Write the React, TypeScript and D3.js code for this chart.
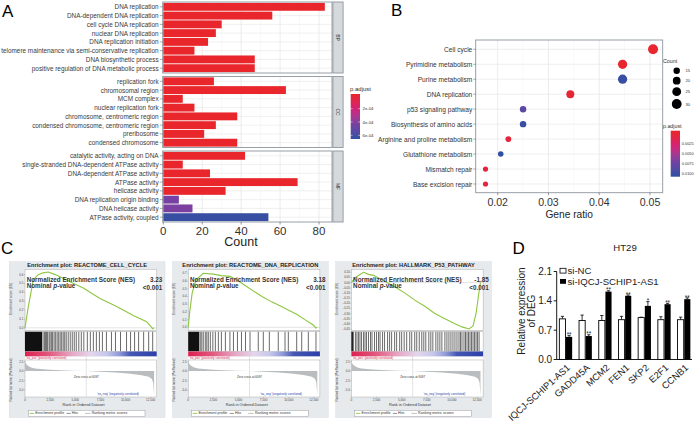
import React from 'react';
import * as d3 from 'd3';

const FONT = '"Liberation Sans", Arial, Helvetica, sans-serif';

// ---------------- Panel A data ----------------
const bpTerms = [
  'DNA replication',
  'DNA-dependent DNA replication',
  'cell cycle DNA replication',
  'nuclear DNA replication',
  'DNA replication initiation',
  'telomere maintenance via semi-conservative replication',
  'DNA biosynthetic process',
  'positive regulation of DNA metabolic process',
];
const bpCounts = [83, 56, 30, 27, 23, 16, 47, 47];
const bpPadj = [1e-6, 1e-6, 1e-6, 1e-6, 1e-6, 1e-6, 1e-6, 1e-6];

const ccTerms = [
  'replication fork',
  'chromosomal region',
  'MCM complex',
  'nuclear replication fork',
  'chromosome, centromeric region',
  'condensed chromosome, centromeric region',
  'preribosome',
  'condensed chromosome',
];
const ccCounts = [26, 63, 10, 16, 38, 27, 21, 38];
const ccPadj = [1e-6, 1e-6, 1e-6, 1e-6, 1e-6, 1e-6, 1e-6, 1e-6];

const mfTerms = [
  'catalytic activity, acting on DNA',
  'single-stranded DNA-dependent ATPase activity',
  'DNA-dependent ATPase activity',
  'ATPase activity',
  'helicase activity',
  'DNA replication origin binding',
  'DNA helicase activity',
  'ATPase activity, coupled',
];
const mfCounts = [42, 10, 24, 69, 32, 8, 15, 54];
const mfPadj = [1e-6, 1e-6, 1e-6, 1e-6, 1e-6, 4.3e-4, 4.2e-4, 6.4e-4];

const aStrips = ['BP', 'CC', 'MF'];
const aTicks = [0, 20, 40, 60, 80];
const aLegendTicks = [2e-4, 4e-4, 6e-4];
const aLegendLabels = ['2e-04', '4e-04', '6e-04'];

// ---------------- Panel B data ----------------
const keggTerms = [
  'Cell cycle',
  'Pyrimidine metabolism',
  'Purine metabolism',
  'DNA replication',
  'p53 signaling pathway',
  'Biosynthesis of amino acids',
  'Arginine and proline metabolism',
  'Glutathione metabolism',
  'Mismatch repair',
  'Base excision repair',
];
const keggRatio = [0.0506, 0.0446, 0.0446, 0.0343, 0.025, 0.025, 0.0221, 0.0206, 0.0176, 0.0176];
const keggCount = [31, 27, 27, 21, 15, 15, 13, 12, 11, 11];
const keggPadj = [0.0001, 0.0002, 0.0102, 0.0003, 0.0085, 0.0101, 0.0006, 0.0104, 0.0008, 0.001];
const bTicks = [0.02, 0.03, 0.04, 0.05];
const bCountLegend = [15, 20, 25, 30];
const bPadjLegend = [0.0025, 0.005, 0.0075, 0.01];
const bPadjLegendLabels = ['0.0025', '0.0050', '0.0075', '0.0100'];

// ---------------- Panel C data ----------------
const gseaTitles = [
  'Enrichment plot: REACTOME_CELL_CYCLE',
  'Enrichment plot: REACTOME_DNA_REPLICATION',
  'Enrichment plot: HALLMARK_P53_PATHWAY',
];
const gseaNES = ['3.23', '3.18', '-1.85'];
const gseaPval = ['<0.001', '<0.001', '<0.001'];

const es1Rank = [0, 70, 330, 825, 1300, 1800, 2320, 3000, 4150, 5000, 5800, 7460, 9120, 10770, 12100, 12500, 12700, 12840];
const es1Value = [0.0, 0.05, 0.24, 0.54, 0.6, 0.62, 0.63, 0.6, 0.54, 0.49, 0.45, 0.33, 0.24, 0.14, 0.07, 0.02, -0.01, 0.0];
const es2Rank = [0, 150, 400, 800, 1500, 2500, 3300, 4160, 5000, 5820, 6600, 7470, 8300, 9130, 10000, 10790, 11600, 12440, 12700, 12840];
const es2Value = [0.0, 0.2, 0.45, 0.62, 0.7, 0.69, 0.67, 0.66, 0.6, 0.53, 0.46, 0.39, 0.33, 0.28, 0.22, 0.17, 0.1, 0.03, -0.01, 0.0];
const es3Rank = [0, 400, 1200, 1700, 2200, 3000, 4300, 5300, 6300, 7300, 8300, 9300, 10300, 11000, 11700, 12100, 12400, 12650, 12840];
const es3Value = [0.0, 0.05, 0.1, 0.08, 0.07, 0.03, -0.04, -0.1, -0.17, -0.23, -0.3, -0.35, -0.4, -0.43, -0.45, -0.42, -0.3, -0.12, 0.0];

const hits1Block = [0, 1700];
const hits1Lines = [1800, 1950, 2050, 2150, 2250, 2400, 2500, 2650, 2750, 2900, 3050, 3200, 3350, 3500, 3650, 3800, 3950, 4100, 4300, 4500, 4700, 4900, 5100, 5350, 5600, 5850, 6200, 6500, 6800, 7100, 7400, 7700, 8100, 8600, 9000, 9500, 10100, 10500, 10900, 11300, 11800, 12300, 12700];
const hits2Block = [0, 1100];
const hits2Lines = [1200, 1350, 1500, 1700, 1850, 2000, 2200, 2450, 2700, 3000, 3300, 3700, 4150, 4500, 4900, 5300, 5700, 6150, 6970, 7470, 8070, 8960, 9630, 9960, 10790, 11290, 11950, 12710];
const hits3Block = [0, 150];
const hits3Lines = [200, 400, 550, 700, 850, 1000, 1200, 1350, 1500, 1700, 1900, 2050, 2300, 2500, 2700, 2850, 3100, 3300, 3600, 3800, 4000, 4300, 4500, 4800, 5000, 5250, 5500, 5800, 6000, 6300, 6500, 6750, 7000, 7200, 7400, 7700, 7900, 8100, 8400, 8600, 8800, 9000, 9300, 9500, 9700, 9900, 10100, 10300, 10500, 10700, 10850, 11000, 11200, 11350, 11500, 11650, 11800, 11950, 12100, 12250, 12400, 12550, 12700];

const metricRank = [0, 60, 150, 330, 600, 1000, 1820, 2500, 3500, 4800, 6097, 7500, 9000, 10500, 11600, 12300, 12600, 12750, 12840];
const metricValue = [2.8, 2.2, 1.7, 1.3, 0.95, 0.7, 0.45, 0.32, 0.2, 0.08, 0, -0.15, -0.35, -0.7, -1.1, -1.5, -2.0, -3.0, -6.5];
const zeroCross = 6097;
const rankTicks = [0, 2500, 5000, 7500, 10000, 12500];
const esTicks1 = [0, 0.1, 0.2, 0.3, 0.4, 0.5, 0.6];
const esTicks2 = [0, 0.1, 0.2, 0.3, 0.4, 0.5, 0.6, 0.7];
const esTicks3 = [0.1, 0.05, 0, -0.05, -0.1, -0.15, -0.2, -0.25, -0.3, -0.35, -0.4, -0.45];
const metricTicks = [2.5, 0, -2.5, -5];

// ---------------- Panel D data ----------------
const dGenes = ['IQCJ-SCHIP1-AS1', 'GADD45A', 'MCM2', 'FEN1', 'SKP2', 'E2F1', 'CCNB1'];
const dSeries = ['si-NC', 'si-IQCJ-SCHIP1-AS1'];
const dNC = [0.97, 0.93, 0.93, 0.95, 1.0, 0.95, 0.95];
const dNCErr = [0.06, 0.13, 0.12, 0.08, 0.01, 0.07, 0.06];
const dSi = [0.54, 0.56, 1.62, 1.52, 1.28, 1.32, 1.44];
const dSiErr = [0.03, 0.03, 0.02, 0.02, 0.1, 0.02, 0.03];
const dSig = ['**', '**', '**', '**', '*', '**', '**'];
const dTicks = [0, 0.7, 1.4, 2.1];

// ---------------- helpers ----------------
const colorStops = ['#E8262B', '#D2237E', '#7341A3', '#2E4FA2'];
function padjScale(max: number) {
  return d3
    .scaleLinear<string>()
    .domain([0, max * 0.33, max * 0.66, max])
    .range(colorStops)
    .interpolate(d3.interpolateLab)
    .clamp(true);
}

function VGradient({ id, scale, lo, hi }: any) {
  const ts = d3.range(0, 1.0001, 0.1);
  return (
    <linearGradient id={id} x1="0" y1="0" x2="0" y2="1">
      {ts.map((t) => (
        <stop key={t} offset={t} stopColor={scale(lo + (hi - lo) * t)} />
      ))}
    </linearGradient>
  );
}

const GRID = '#E6E6E6';
const GRID_MINOR = '#F2F2F2';
const BORDER = '#8C959D';

function PanelA() {
  const x = d3.scaleLinear().domain([0, 80]).range([163.3, 319]);
  const L = 162.7;
  const R = 332;
  const H = 71;
  const tops = [2, 76.5, 151];
  const groups = [
    { terms: bpTerms, counts: bpCounts, padj: bpPadj },
    { terms: ccTerms, counts: ccCounts, padj: ccPadj },
    { terms: mfTerms, counts: mfCounts, padj: mfPadj },
  ];
  const color = padjScale(6.6e-4);
  const minor = [10, 30, 50, 70];
  const legY = d3.scaleLinear().domain([-0.2e-4, 6.55e-4]).range([94, 139]);
  return (
    <g>
      <defs>
        <VGradient id="gradA" scale={color} lo={legY.invert(94)} hi={legY.invert(139)} />
      </defs>
      <text x={2} y={17} fontSize={17}>A</text>
      {groups.map((g, gi) => {
        const top = tops[gi];
        const y = d3.scaleBand().domain(g.terms).range([top, top + H]).paddingInner(0.1).paddingOuter(0.1);
        return (
          <g key={gi}>
            <rect x={L} y={top} width={R - L} height={H} fill="#fff" />
            {minor.map((m) => (
              <line key={'m' + m} x1={x(m)} x2={x(m)} y1={top} y2={top + H} stroke={GRID_MINOR} strokeWidth={0.5} />
            ))}
            {aTicks.map((t) => (
              <line key={'t' + t} x1={x(t)} x2={x(t)} y1={top} y2={top + H} stroke={GRID} strokeWidth={0.8} />
            ))}
            {g.terms.map((t) => (
              <line key={'h' + t} x1={L} x2={R} y1={(y(t) as number) + y.bandwidth() / 2} y2={(y(t) as number) + y.bandwidth() / 2} stroke={GRID} strokeWidth={0.6} />
            ))}
            {g.terms.map((t, i) => (
              <rect key={'b' + t} x={x(0)} y={y(t)} width={x(g.counts[i]) - x(0)} height={y.bandwidth()} fill={color(g.padj[i])} />
            ))}
            <rect x={L} y={top} width={R - L} height={H} fill="none" stroke={BORDER} strokeWidth={0.9} />
            <rect x={R + 0.9} y={top} width={10.2} height={H} fill="#D5D9DC" stroke={BORDER} strokeWidth={0.9} />
            <text
              transform={`translate(${R + 6},${top + H / 2}) rotate(90)`}
              textAnchor="middle"
              dominantBaseline="central"
              fontSize={5}
              fill="#333"
            >
              {aStrips[gi]}
            </text>
            {g.terms.map((t) => {
              const cy = (y(t) as number) + y.bandwidth() / 2;
              return (
                <g key={'l' + t}>
                  <line x1={159.8} x2={L} y1={cy} y2={cy} stroke="#555" strokeWidth={0.5} />
                  <text x={158.6} y={cy} textAnchor="end" dominantBaseline="central" fontSize={6.4} fill="#3a3a3a">
                    {t}
                  </text>
                </g>
              );
            })}
          </g>
        );
      })}
      {aTicks.map((t) => (
        <g key={'xt' + t}>
          <line x1={x(t)} x2={x(t)} y1={222} y2={224.5} stroke="#555" strokeWidth={0.6} />
          <text x={x(t)} y={234.5} textAnchor="middle" fontSize={11.5} fill="#333">
            {t}
          </text>
        </g>
      ))}
      <text x={241} y={246} textAnchor="middle" fontSize={12.5} fill="#222">
        Count
      </text>
      <text x={350} y={90.5} fontSize={6} fill="#333">p.adjust</text>
      <rect x={350.7} y={94} width={9.3} height={45} fill="url(#gradA)" />
      {aLegendTicks.map((t, i) => (
        <g key={'al' + i}>
          <line x1={350.7} x2={352.5} y1={legY(t)} y2={legY(t)} stroke="#fff" strokeWidth={0.5} />
          <line x1={358.2} x2={360} y1={legY(t)} y2={legY(t)} stroke="#fff" strokeWidth={0.5} />
          <text x={362.5} y={legY(t)} dominantBaseline="central" fontSize={4.3} fill="#333">
            {aLegendLabels[i]}
          </text>
        </g>
      ))}
    </g>
  );
}

function PanelB() {
  const L = 475.7;
  const R = 662.7;
  const T = 40;
  const B = 192.7;
  const x = d3.scaleLinear().domain([0.02, 0.05]).range([497.7, 650]);
  const y = d3.scalePoint().domain(keggTerms).range([49.3, 184]);
  const color = padjScale(0.0105);
  const areaS = d3.scaleLinear().domain([11, 31]).range([6.76, 25]);
  const r = (c: number) => Math.sqrt(areaS(c));
  const minor = [0.025, 0.035, 0.045];
  const legY = d3.scaleLinear().domain([0, 0.01]).range([133.3, 173.3]);
  return (
    <g>
      <defs>
        <VGradient id="gradB" scale={color} lo={legY.invert(130.7)} hi={legY.invert(176.7)} />
      </defs>
      <text x={391} y={15.5} fontSize={17}>B</text>
      <rect x={L} y={T} width={R - L} height={B - T} fill="#fff" />
      {minor.map((m) => (
        <line key={'m' + m} x1={x(m)} x2={x(m)} y1={T} y2={B} stroke={GRID_MINOR} strokeWidth={0.5} />
      ))}
      {bTicks.map((t) => (
        <line key={'g' + t} x1={x(t)} x2={x(t)} y1={T} y2={B} stroke={GRID} strokeWidth={0.8} />
      ))}
      {keggTerms.map((t) => (
        <line key={'h' + t} x1={L} x2={R} y1={y(t)} y2={y(t)} stroke={GRID} strokeWidth={0.7} />
      ))}
      {keggTerms.map((t, i) => (
        <circle key={'c' + t} cx={x(keggRatio[i])} cy={y(t)} r={r(keggCount[i])} fill={color(keggPadj[i])} />
      ))}
      <rect x={L} y={T} width={R - L} height={B - T} fill="none" stroke={BORDER} strokeWidth={0.9} />
      {keggTerms.map((t) => (
        <g key={'l' + t}>
          <line x1={473.3} x2={L} y1={y(t)} y2={y(t)} stroke="#555" strokeWidth={0.5} />
          <text x={472.3} y={y(t)} textAnchor="end" dominantBaseline="central" fontSize={6.6} fill="#333">
            {t}
          </text>
        </g>
      ))}
      {bTicks.map((t) => (
        <g key={'xt' + t}>
          <line x1={x(t)} x2={x(t)} y1={B} y2={B + 2.5} stroke="#555" strokeWidth={0.6} />
          <text x={x(t)} y={205.8} textAnchor="middle" fontSize={10.6} fill="#333">
            {t.toFixed(2)}
          </text>
        </g>
      ))}
      <text x={(L + R) / 2} y={218.3} textAnchor="middle" fontSize={10.2} fill="#222">
        Gene ratio
      </text>
      <text x={663} y={62.5} fontSize={5.3} fill="#333">Count</text>
      {bCountLegend.map((c, i) => {
        const cy = [70.7, 80.7, 91.7, 104][i];
        return (
          <g key={'cl' + c}>
            <circle cx={676.7} cy={cy} r={r(c)} fill="#000" />
            <text x={685.5} y={cy} dominantBaseline="central" fontSize={4.2} fill="#333">
              {c}
            </text>
          </g>
        );
      })}
      <text x={663} y={127.5} fontSize={5.3} fill="#333">p.adjust</text>
      <rect x={670.7} y={130.7} width={9.3} height={46} fill="url(#gradB)" />
      {bPadjLegend.map((t, i) => (
        <text key={'pl' + i} x={681.8} y={legY(t)} dominantBaseline="central" fontSize={3.9} fill="#333">
          {bPadjLegendLabels[i]}
        </text>
      ))}
    </g>
  );
}

function Gsea({ k }: { k: number }) {
  const dx = k * 163.2;
  const fx0 = 9.3 + dx;
  const fx1 = 165 + dx;
  const px0 = 25 + dx;
  const px1 = 156.7 + dx;
  const esRank = [es1Rank, es2Rank, es3Rank][k];
  const esValue = [es1Value, es2Value, es3Value][k];
  const esDomain = [[-0.03, 0.66], [-0.041, 0.752], [-0.465, 0.129]][k];
  const esTk = [esTicks1, esTicks2, esTicks3][k];
  const hitsBlock = [hits1Block, hits2Block, hits3Block][k];
  const hitsLines = [hits1Lines, hits2Lines, hits3Lines][k];
  const xr = d3.scaleLinear().domain([0, 13100]).range([px0, px1]);
  const esY = d3.scaleLinear().domain(esDomain).range([330.5, 269.3]);
  const mY = d3.scaleLinear().domain([-6.8, 2.9]).range([397, 360]);
  const esLine = d3
    .line<number>()
    .x((_, i) => xr(esRank[i]))
    .y((v) => esY(v));
  const mArea = d3
    .area<number>()
    .x((_, i) => xr(metricRank[i]))
    .y0(mY(0))
    .y1((v) => mY(v));
  const fmtEs = k === 2 ? d3.format('.2f') : d3.format('.1f');
  const gradId = 'gseaGrad' + k;
  return (
    <g>
      <defs>
        <linearGradient id={gradId} x1="0" y1="0" x2="1" y2="0">
          <stop offset="0" stopColor="#DE1F50" />
          <stop offset="0.18" stopColor="#E2577C" />
          <stop offset="0.36" stopColor="#E6A9C6" />
          <stop offset="0.5" stopColor="#E3D6EC" />
          <stop offset="0.62" stopColor="#C6C8EA" />
          <stop offset="0.72" stopColor="#8E98D6" />
          <stop offset="0.8" stopColor="#4657B3" />
          <stop offset="1" stopColor="#2B3FA8" />
        </linearGradient>
      </defs>
      <rect x={fx0} y={261.7} width={fx1 - fx0} height={155.8} fill="#E7EAED" stroke="#D3D7DB" strokeWidth={0.4} />
      <text x={(fx0 + fx1) / 2} y={267.3} textAnchor="middle" fontSize={5.7} fontWeight="bold" fill="#222">
        {gseaTitles[k]}
      </text>
      {/* ES plot */}
      <rect x={px0} y={269.3} width={px1 - px0} height={61.2} fill="#fff" stroke="#9A9A9A" strokeWidth={0.4} />
      <line x1={px0} x2={px1} y1={esY(0)} y2={esY(0)} stroke="#BBB" strokeWidth={0.4} />
      {esTk.map((t) => (
        <g key={'et' + t}>
          <line x1={px0 - 1} x2={px0} y1={esY(t)} y2={esY(t)} stroke="#666" strokeWidth={0.3} />
          <text x={px0 - 1.6} y={esY(t)} textAnchor="end" dominantBaseline="central" fontSize={2.9} fill="#444">
            {fmtEs(t)}
          </text>
        </g>
      ))}
      <path d={esLine(esValue) || ''} fill="none" stroke="#8DC63F" strokeWidth={1.1} />
      <text x={px0 + 1.7} y={281.6} fontSize={6.3} fontWeight="bold" fill="#333">
        Normalized Enrichment Score (NES)
      </text>
      <text x={162.3 + dx} y={281.6} textAnchor="end" fontSize={6.3} fontWeight="bold" fill="#333">
        {gseaNES[k]}
      </text>
      <text x={px0 + 1.7} y={288.4} fontSize={6.3} fontWeight="bold" fill="#333">
        Nominal <tspan fontStyle="italic">p</tspan>-value
      </text>
      <text x={162.3 + dx} y={290.2} textAnchor="end" fontSize={6.3} fontWeight="bold" fill="#333">
        {gseaPval[k]}
      </text>
      <text
        transform={`translate(${fx0 + 2.2},${299}) rotate(-90)`}
        textAnchor="middle"
        fontSize={3.2}
        fill="#444"
      >
        Enrichment score (ES)
      </text>
      {/* hits */}
      <rect x={px0} y={331.5} width={px1 - px0} height={20} fill="#fff" stroke="#9A9A9A" strokeWidth={0.4} />
      <rect x={xr(hitsBlock[0])} y={331.8} width={xr(hitsBlock[1]) - xr(hitsBlock[0])} height={19.4} fill="#111" />
      {hitsLines.map((h, i) => (
        <line key={'h' + i} x1={xr(h)} x2={xr(h)} y1={331.8} y2={351.2} stroke="#1a1a1a" strokeWidth={0.65} />
      ))}
      <rect x={px0} y={351.5} width={px1 - px0} height={5} fill={`url(#${gradId})`} />
      {/* ranked metric */}
      <rect x={px0} y={356.6} width={px1 - px0} height={3.3} fill="#fff" />
      <text x={px0 + 1.2} y={359.2} fontSize={3} fill="#D81E4A">
        'na_pos' (positively correlated)
      </text>
      <rect x={px0} y={360} width={px1 - px0} height={37} fill="#fff" stroke="#9A9A9A" strokeWidth={0.4} />
      <path d={mArea(metricValue) || ''} fill="#B9BDBF" />
      <line x1={xr(zeroCross)} x2={xr(zeroCross)} y1={356.7} y2={397} stroke="#777" strokeWidth={0.4} strokeDasharray="1,1" />
      <text x={xr(zeroCross)} y={378} textAnchor="middle" fontSize={3} fill="#333">
        Zero cross at {zeroCross}
      </text>
      <text x={118 + dx} y={395} textAnchor="middle" fontSize={3} fill="#2A3EAA">
        'na_neg' (negatively correlated)
      </text>
      {metricTicks.map((t) => (
        <g key={'mt' + t}>
          <line x1={px0 - 1} x2={px0} y1={mY(t)} y2={mY(t)} stroke="#666" strokeWidth={0.3} />
          <text x={px0 - 1.6} y={mY(t)} textAnchor="end" dominantBaseline="central" fontSize={2.9} fill="#444">
            {t.toFixed(1)}
          </text>
        </g>
      ))}
      <text
        transform={`translate(${fx0 + 2.2},${380}) rotate(-90)`}
        textAnchor="middle"
        fontSize={3.1}
        fill="#444"
      >
        Ranked list metric (PreRanked)
      </text>
      {rankTicks.map((t) => (
        <g key={'rt' + t}>
          <line x1={xr(t)} x2={xr(t)} y1={397} y2={398} stroke="#666" strokeWidth={0.3} />
          <text x={xr(t)} y={401.3} textAnchor="middle" fontSize={3} fill="#444">
            {d3.format(',')(t)}
          </text>
        </g>
      ))}
      <text x={83.5 + dx} y={405.6} textAnchor="middle" fontSize={3.8} fill="#333">
        Rank in Ordered Dataset
      </text>
      {/* legend */}
      <rect x={28.3 + dx} y={410.3} width={116.7} height={6.2} fill="#fff" stroke="#888" strokeWidth={0.4} />
      <line x1={29.6 + dx} x2={34 + dx} y1={413.4} y2={413.4} stroke="#8DC63F" strokeWidth={0.9} />
      <text x={35.2 + dx} y={413.4} dominantBaseline="central" fontSize={3.6} fill="#333">
        Enrichment profile
      </text>
      <line x1={66.5 + dx} x2={70.7 + dx} y1={413.4} y2={413.4} stroke="#222" strokeWidth={0.5} />
      <text x={71.7 + dx} y={413.4} dominantBaseline="central" fontSize={3.6} fill="#333">
        Hits
      </text>
      <line x1={85 + dx} x2={90.5 + dx} y1={413.4} y2={413.4} stroke="#BBB" strokeWidth={0.9} />
      <text x={91.7 + dx} y={413.4} dominantBaseline="central" fontSize={3.6} fill="#333">
        Ranking metric scores
      </text>
    </g>
  );
}

function PanelC() {
  return (
    <g>
      <text x={1} y={254} fontSize={17}>C</text>
      <Gsea k={0} />
      <Gsea k={1} />
      <Gsea k={2} />
    </g>
  );
}

function PanelD() {
  const y = d3.scaleLinear().domain([0, 2.1]).range([359.5, 271.5]);
  const x0 = d3.scaleBand().domain(dGenes).range([555.9, 693.8]).paddingInner(0.35).paddingOuter(0.175);
  const x1 = d3.scaleBand().domain(dSeries).range([0, x0.bandwidth()]).paddingInner(0.08);
  const axisX = 556.7;
  return (
    <g>
      <text x={512.5} y={253.5} fontSize={17}>D</text>
      <text x={625} y={250.8} textAnchor="middle" fontSize={9.6} fill="#222">HT29</text>
      <line x1={axisX} x2={axisX} y1={y(2.1)} y2={y(0)} stroke="#000" strokeWidth={0.9} />
      <line x1={axisX} x2={692} y1={y(0)} y2={y(0)} stroke="#000" strokeWidth={0.9} />
      {dTicks.map((t) => (
        <g key={'yt' + t}>
          <line x1={axisX - 3} x2={axisX} y1={y(t)} y2={y(t)} stroke="#000" strokeWidth={0.9} />
          <text x={axisX - 4.5} y={y(t)} textAnchor="end" dominantBaseline="central" fontSize={10} fill="#222">
            {t.toFixed(1)}
          </text>
        </g>
      ))}
      <text transform={`translate(524.5,${311}) rotate(-90)`} textAnchor="middle" fontSize={10} fill="#222">
        Relative expression
      </text>
      <text transform={`translate(535,${311}) rotate(-90)`} textAnchor="middle" fontSize={10} fill="#222">
        of DEG
      </text>
      {dGenes.map((g, i) => {
        const gx = x0(g) as number;
        const wx = gx + (x1(dSeries[0]) as number);
        const bx = gx + (x1(dSeries[1]) as number);
        const bw = x1.bandwidth();
        const cxW = wx + bw / 2;
        const cxB = bx + bw / 2;
        const topW = y(dNC[i] + dNCErr[i]);
        const topB = y(dSi[i] + dSiErr[i]);
        return (
          <g key={g}>
            <line x1={cxW} x2={cxW} y1={y(dNC[i])} y2={topW} stroke="#000" strokeWidth={0.8} />
            <line x1={cxW - 1.6} x2={cxW + 1.6} y1={topW} y2={topW} stroke="#000" strokeWidth={0.8} />
            <rect x={wx} y={y(dNC[i])} width={bw} height={y(0) - y(dNC[i])} fill="#fff" stroke="#000" strokeWidth={0.9} />
            <line x1={cxB} x2={cxB} y1={y(dSi[i])} y2={topB} stroke="#000" strokeWidth={0.8} />
            <line x1={cxB - 1.6} x2={cxB + 1.6} y1={topB} y2={topB} stroke="#000" strokeWidth={0.8} />
            <rect x={bx} y={y(dSi[i])} width={bw} height={y(0) - y(dSi[i])} fill="#000" />
            <text x={cxB} y={topB + 1.6} textAnchor="middle" fontSize={6.3} fill="#222">
              {dSig[i]}
            </text>
            <text
              transform={`translate(${gx + x0.bandwidth() / 2 + 5},${368.5}) rotate(-42)`}
              textAnchor="end"
              fontSize={9.4}
              fill="#222"
            >
              {g}
            </text>
          </g>
        );
      })}
      <rect x={560} y={268.3} width={6} height={4.8} fill="#fff" stroke="#000" strokeWidth={0.8} />
      <text x={567.5} y={270.6} dominantBaseline="central" fontSize={9.6} fill="#222">
        {dSeries[0]}
      </text>
      <rect x={560} y={279} width={6} height={4.8} fill="#000" />
      <text x={567.5} y={281.3} dominantBaseline="central" fontSize={9.6} fill="#222">
        {dSeries[1]}
      </text>
    </g>
  );
}

export default function App() {
  return (
    <svg
      width={697}
      height={429}
      viewBox="0 0 697 429"
      style={{ position: 'absolute', left: 0, top: 0, background: '#fff', fontFamily: FONT }}
    >
      <rect x={0} y={0} width={697} height={429} fill="#fff" />
      <PanelA />
      <PanelB />
      <PanelC />
      <PanelD />
    </svg>
  );
}
